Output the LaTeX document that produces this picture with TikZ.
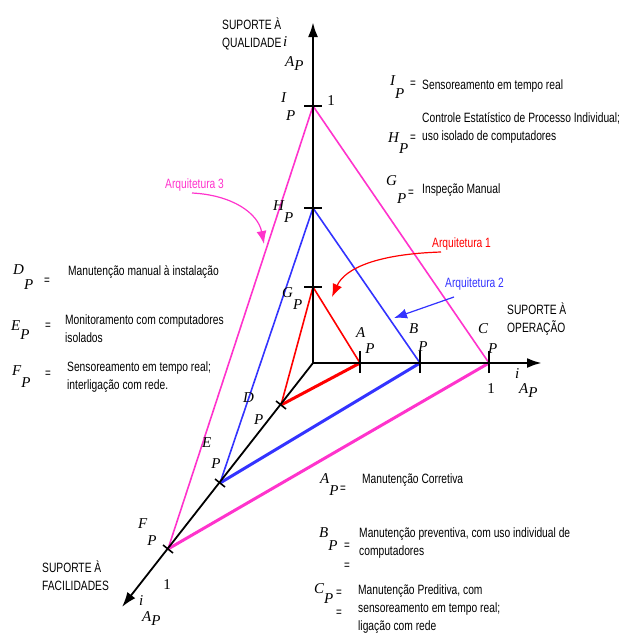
\documentclass[tikz,border=0pt]{standalone}
\usepackage{fontspec}
\setmainfont{Liberation Sans}[FakeStretch=0.76]
\newfontfamily\letfont{Liberation Serif}
\usepackage{tikz}
\usetikzlibrary{arrows.meta}
\definecolor{arqred}{RGB}{255,0,0}
\definecolor{arqblue}{RGB}{51,51,255}
\definecolor{arqpink}{RGB}{255,51,204}
\newcommand{\lp}[2][15pt]{#2\raisebox{-#1}{P}}
\tikzset{
  supaxis/.style={-{Latex[length=15pt,width=10pt]},line width=2.6pt},
  diagaxis/.style={-{Latex[length=15pt,width=10pt]},line width=1.8pt},
  supmark/.style={line width=2.6pt},
  diagmark/.style={line width=1.6pt},
  thinedge/.style={line width=1.6pt},
  thickedge/.style={line width=3pt},
  arqarrow/.style={-{Latex[length=13pt,width=10pt]},line width=1.2pt},
  txt/.style={anchor=base west,inner sep=0pt,align=left,
    font=\fontsize{13.5}{18}\selectfont},
  ltr/.style={anchor=base west,inner sep=0pt,
    font=\letfont\itshape\fontsize{15}{15}\selectfont},
  one/.style={inner sep=0pt,font=\letfont\fontsize{15}{15}\selectfont},
  eqs/.style={inner sep=0pt,font=\fontsize{13}{13}\selectfont},
  every picture/.style={line join=miter}
}
\begin{document}
\begin{tikzpicture}[x=1pt,y=-1pt]
  \useasboundingbox (0,0) rectangle (619,635);
  \coordinate (O) at (313,363);
  \coordinate (qtip) at (313,22);
  \coordinate (otip) at (542,363);
  \coordinate (ftip) at (122,607);
  \coordinate (G) at (313,287);
  \coordinate (H) at (313,208);
  \coordinate (I) at (313,106);
  \coordinate (A) at (360,363);
  \coordinate (B) at (420,363);
  \coordinate (C) at (489,363);
  \coordinate (D) at (281,405);
  \coordinate (E) at (220,483);
  \coordinate (F) at (168,549);

  % arquiteturas
  \draw[thinedge,arqpink] (F) -- (I) -- (C);
  \draw[thickedge,arqpink] (C) -- (F);
  \draw[thinedge,arqblue] (E) -- (H) -- (B);
  \draw[thickedge,arqblue] (B) -- (E);
  \draw[thinedge,arqred] (D) -- (G) -- (A);
  \draw[thickedge,arqred] (A) -- (D);

  % eixos
  \draw[supaxis] (O) -- (qtip);
  \draw[supaxis] (O) -- (otip);
  \draw[diagaxis] (O) -- (ftip);
  \foreach \p in {G,H,I}
    \draw[supmark] ([xshift=-9pt]\p) -- ([xshift=9pt]\p);
  \foreach \p in {A,B,C}
    \draw[supmark] ([yshift=-10pt]\p) -- ([yshift=12pt]\p);
  \foreach \p in {D,E,F}
    \draw[diagmark] (\p) ++(-5,-4) -- ++(10,8);

  \node[txt] (qual) at (222,47) {SUPORTE À\\QUALIDADE};
  \node[txt] (oper) at (507,332) {SUPORTE À\\OPERAÇÃO};
  \node[txt] (faci) at (42,590) {SUPORTE À\\FACILIDADES};
  \node[ltr] (iq) at (283,46) {i};
  \node[ltr] (aq) at (285,66) {\lp[4pt]{A}};
  \node[ltr] (io) at (515,378) {i};
  \node[ltr] (ao) at (519,393) {\lp[4pt]{A}};
  \node[ltr] (if) at (139,605) {i};
  \node[ltr] (af) at (142,621) {\lp[4pt]{A}};
  \node[one] (oneq) at (331,101) {1};
  \node[one] (oneo) at (491,389) {1};
  \node[one] (onef) at (167,585) {1};

  \node[ltr] (lA) at (356,337) {\lp[16pt]{A}};
  \node[ltr] (lB) at (409,333) {\lp[18pt]{B}};
  \node[ltr] (lC) at (478,333) {\lp[20pt]{C}};
  \node[ltr] (lG) at (282,297) {\lp[12pt]{G}};
  \node[ltr] (lH) at (273,210) {\lp[12pt]{H}};
  \node[ltr] (lI) at (281,102) {\lp[18pt]{I}};
  \node[ltr] (lD) at (243,402) {\lp[22pt]{D}};
  \node[ltr] (lE) at (202,447) {\lp[21pt]{E}};
  \node[ltr] (lF) at (138,528) {\lp[17pt]{F}};

  \node[txt,text=arqred] (arq1) at (432,247) {Arquitetura 1};
  \node[txt,text=arqblue] (arq2) at (445,287) {Arquitetura 2};
  \node[txt,text=arqpink] (arq3) at (165,188) {Arquitetura 3};
  \coordinate (a1s) at (441,252);
  \coordinate (a1t) at (332,297);
  \coordinate (a2s) at (454,297);
  \coordinate (a2t) at (394,318);
  \coordinate (a3s) at (192,193);
  \coordinate (a3t) at (264,244);
  \draw[arqarrow,arqred] (a1s) .. controls (378,254) and (345,268) .. (a1t);
  \draw[arqarrow,arqblue] (a2s) -- (a2t);
  \draw[arqarrow,arqpink] (a3s) .. controls (232,195) and (258,213) .. (a3t);

  % legenda
  \node[ltr] (kI) at (390,85) {\lp[13pt]{I}};
  \node[eqs] (eI) at (413,84) {=};
  \node[txt] (tI) at (422,89) {Sensoreamento em tempo real};
  \node[ltr] (kH) at (388,142) {\lp[11pt]{H}};
  \node[eqs] (eH) at (413,138) {=};
  \node[txt] (tH) at (422,140) {Controle Estatístico de Processo Individual;\\uso isolado de computadores};
  \node[ltr] (kG) at (386,185) {\lp[18pt]{G}};
  \node[eqs] (eG) at (411,193) {=};
  \node[txt] (tG) at (422,193) {Inspeção Manual};
  \node[ltr] (kD) at (13,274) {\lp[15pt]{D}};
  \node[eqs] (eD) at (47,281) {=};
  \node[txt] (tD) at (68,275) {Manutenção manual à instalação};
  \node[ltr] (kE) at (11,330) {\lp[9pt]{E}};
  \node[eqs] (eE) at (48,326) {=};
  \node[txt] (tE) at (65,342) {Monitoramento com computadores\\isolados};
  \node[ltr] (kF) at (12,375) {\lp[12pt]{F}};
  \node[eqs] (eF) at (48,374) {=};
  \node[txt] (tF) at (67,389) {Sensoreamento em tempo real;\\interligação com rede.};
  \node[ltr] (kA) at (320,483) {\lp[12pt]{A}};
  \node[eqs] (eA) at (343,489) {=};
  \node[txt] (tA) at (362,483) {Manutenção Corretiva};
  \node[ltr] (kB) at (319,537) {\lp[13pt]{B}};
  \node[eqs] (eB) at (347,546) {=};
  \node[eqs] (eB2) at (347,566) {=};
  \node[txt] (tB) at (359,555) {Manutenção preventiva, com uso individual de\\computadores};
  \node[ltr] (kC) at (314,593) {\lp[10pt]{C}};
  \node[eqs] (eC) at (339,593) {=};
  \node[eqs] (eC2) at (339,613) {=};
  \node[txt] (tC) at (358,630) {Manutenção Preditiva, com\\sensoreamento em tempo real;\\ligação com rede};
\end{tikzpicture}
\end{document}
